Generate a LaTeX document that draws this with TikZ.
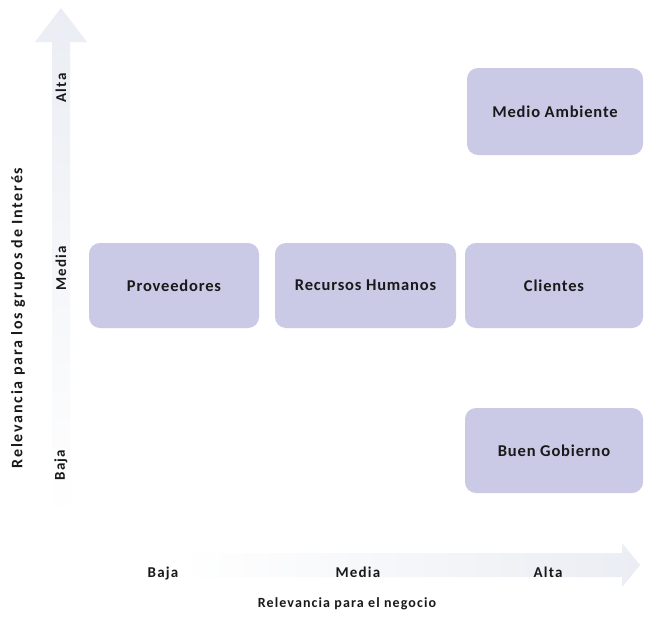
\documentclass[tikz,border=0pt]{standalone}
\usepackage{fontspec}
\setmainfont{Carlito}
\newfontfamily\spaced[LetterSpace=8]{Carlito}
\newfontfamily\boxfont[LetterSpace=5]{Carlito}
\newfontfamily\wide[LetterSpace=11]{Carlito}
\begin{document}
\begin{tikzpicture}[x=1pt,y=-1pt,
  box/.style={fill=boxfill,rounded corners=11pt,inner sep=0pt,
    font=\boxfont\bfseries\fontsize{16.5}{19}\selectfont,text=black!90},
  axlbl/.style={font=\spaced\bfseries\fontsize{15}{17}\selectfont,text=black!90},
  ttl/.style={font=\spaced\bfseries\fontsize{14}{16}\selectfont,text=black!90},
  vttl/.style={font=\wide\bfseries\fontsize{16}{18}\selectfont,text=black!90}]
\definecolor{boxfill}{RGB}{202,202,230}
\definecolor{arrowc}{RGB}{234,237,243}
\useasboundingbox (0,0) rectangle (645,616);
\fill[white] (0,0) rectangle (645,616);
% faint vertical arrow
\shade[top color=arrowc,bottom color=white]
  (52,520) -- (52,42) -- (35,42) -- (61,8) -- (87,42) -- (70,42) -- (70,520) -- cycle;
% faint horizontal arrow
\shade[left color=white,right color=arrowc]
  (180,553) -- (622,553) -- (622,543) -- (640,565) -- (622,587) -- (622,577) -- (180,577) -- cycle;
% boxes
\path[box] (467,68) rectangle (643,155) node[midway] (ma) {Medio Ambiente};
\path[box] (89,243) rectangle (259,328) node[midway] (pr) {Proveedores};
\path[box] (275,243) rectangle (456,328) node[midway] (rh) {Recursos Humanos};
\path[box] (465,243) rectangle (643,328) node[midway] (cl) {Clientes};
\path[box] (465,408) rectangle (643,493) node[midway] (bg) {Buen Gobierno};
% horizontal axis labels
\node[axlbl] (xb) at (163,573) {Baja};
\node[axlbl] (xm) at (358,572) {Media};
\node[axlbl] (xa) at (548,572) {Alta};
\node[ttl] (xt) at (347,604) {Relevancia para el negocio};
% vertical axis labels
\node[axlbl,rotate=90] (ya) at (61,88) {Alta};
\node[axlbl,rotate=90] (ym) at (61,268) {Media};
\node[axlbl,rotate=90] (yb) at (61,465) {Baja};
\node[vttl,rotate=90] (yt) at (18,318) {Relevancia para los grupos de Interés};
\end{tikzpicture}
\end{document}
